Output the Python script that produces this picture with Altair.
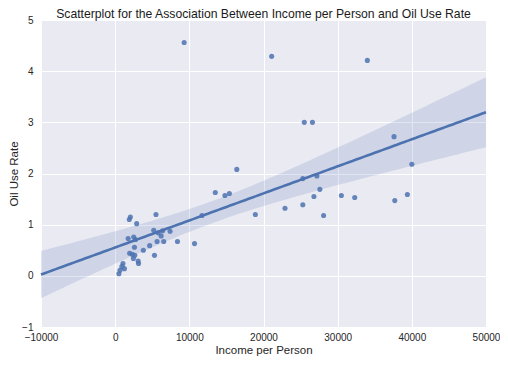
import altair as alt
import numpy as np
import pandas as pd

income = [9300, 21100, 34000, 25500, 26600, 37600, 40000, 16400, 25300, 27200,
          27600, 13500, 14800, 15400, 30500, 32300, 26800, 25300, 22900, 18900,
          28100, 37700, 39400, 11700, 5500, 2050, 1900, 2900, 10700, 8400,
          7400, 6550, 5650, 5200, 6200, 5800, 4650, 5300, 3800, 1750,
          2500, 2750, 2600, 1950, 2300, 2650, 2450, 3100, 3150, 1050,
          900, 1250, 650, 500, 6400]
oil_use = [4.56, 4.29, 4.21, 3.00, 3.00, 2.72, 2.18, 2.08, 1.90, 1.95,
           1.69, 1.63, 1.57, 1.61, 1.57, 1.53, 1.55, 1.39, 1.32, 1.20,
           1.18, 1.47, 1.59, 1.18, 1.20, 1.15, 1.10, 1.02, 0.63, 0.67,
           0.87, 0.67, 0.67, 0.89, 0.78, 0.84, 0.59, 0.40, 0.50, 0.73,
           0.76, 0.71, 0.56, 0.44, 0.42, 0.40, 0.34, 0.29, 0.24, 0.24,
           0.18, 0.14, 0.11, 0.04, 0.88]

x_ticks = [-10000, 0, 10000, 20000, 30000, 40000, 50000]
y_ticks = [-1, 0, 1, 2, 3, 4, 5]

pts = pd.DataFrame({"income": income, "oil": oil_use})

# OLS fit and 95% confidence band derived from the data
x = np.array(income, dtype=float)
y = np.array(oil_use, dtype=float)
n = len(x)
b1, b0 = np.polyfit(x, y, 1)
resid = y - (b0 + b1 * x)
s = np.sqrt(np.sum(resid ** 2) / (n - 2))
xbar = x.mean()
sxx = np.sum((x - xbar) ** 2)
grid = np.linspace(-10000, 50000, 121)
fit = b0 + b1 * grid
se = s * np.sqrt(1.0 / n + (grid - xbar) ** 2 / sxx)
t = 2.006
band = pd.DataFrame({"income": grid, "fit": fit, "lo": fit - t * se, "hi": fit + t * se})

blue = "#4C72B0"
font = "Liberation Sans"

xscale = alt.Scale(domain=[-10000, 50000], nice=False, zero=False)
yscale = alt.Scale(domain=[-1, 5], nice=False, zero=False)

xaxis = alt.Axis(values=x_ticks, format="d", title="Income per Person",
                 labelFlush=False, labelOverlap=False, labelPadding=5,
                 titlePadding=2)
yaxis = alt.Axis(values=y_ticks, format="d", title="Oil Use Rate",
                 labelPadding=8, titleX=-27, titleY=153.5,
                 titleBaseline="middle", titleAlign="center")

area = alt.Chart(band).mark_area(color=blue, opacity=0.17).encode(
    x=alt.X("income:Q", scale=xscale, axis=xaxis),
    y=alt.Y("lo:Q", scale=yscale, axis=yaxis),
    y2="hi:Q",
)

scatter = alt.Chart(pts).mark_circle(color=blue, opacity=0.85, size=26).encode(
    x=alt.X("income:Q", scale=xscale),
    y=alt.Y("oil:Q", scale=yscale),
)

line = alt.Chart(band).mark_line(color=blue, strokeWidth=2.6).encode(
    x=alt.X("income:Q", scale=xscale),
    y=alt.Y("fit:Q", scale=yscale),
)

chart = alt.layer(area, scatter, line).properties(
    width=445,
    height=307,
    title=alt.TitleParams(
        "Scatterplot for the Association Between Income per Person and Oil Use Rate",
        font=font, fontSize=12.2, fontWeight="normal", color="#1a1a1a",
        anchor="middle", offset=-5,
    ),
    autosize=alt.AutoSizeParams(type="none"),
    padding={"left": 33, "top": 12, "right": 14, "bottom": 37},
).configure_view(
    fill="#EAEAF2", stroke=None, strokeWidth=0,
).configure_axis(
    domain=False, ticks=False, grid=True, gridColor="#FFFFFF", gridWidth=1,
    gridOpacity=1,
    labelFont=font, labelFontSize=10, labelColor="#262626",
    titleFont=font, titleFontSize=11.5, titleFontWeight="normal", titleColor="#262626",
)

chart.save("out.html", embed_options={"renderer": "svg", "actions": False})
